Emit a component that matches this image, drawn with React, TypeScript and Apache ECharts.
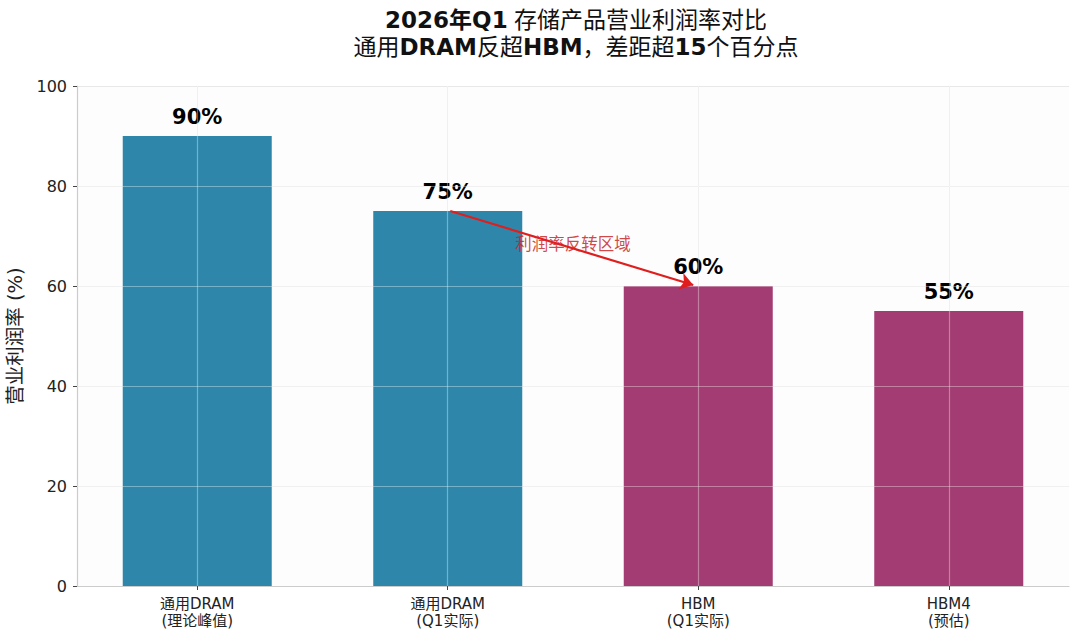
import React, { useEffect, useRef } from "react";
import * as echarts from "echarts";

const categories = ["通用DRAM\n(理论峰值)", "通用DRAM\n(Q1实际)", "HBM\n(Q1实际)", "HBM4\n(预估)"];
const margins = [90, 75, 60, 55];
const barColors = ["#2E87AA", "#2E87AA", "#A23C72", "#A23C72"];
const yTicks = [0, 20, 40, 60, 80, 100];
const arrowFrom = [1.01, 75];
const arrowTo = [1.98, 60.2];
const noteText = "利润率反转区域";
const notePos = [1.5, 68.4];

const FONT = "'DejaVu Sans', 'Noto Sans CJK SC', sans-serif";

export default function App() {
  const ref = useRef<HTMLDivElement>(null);
  useEffect(() => {
    if (!ref.current) return;
    const chart = echarts.init(ref.current, null, { renderer: "svg" });
    const idx = categories.map((_, i) => i);
    const option = {
      animation: false,
      backgroundColor: "#ffffff",
      textStyle: { fontFamily: FONT },
      title: {
        left: 571,
        top: 1,
        textAlign: "center",
        text:
          "{b|2026年Q1} {n|存储产品营业利润率对比}\n{n|通用}{b|DRAM}{n|反超}{b|HBM}{n|，差距超}{b|15}{n|个百分点}",
        textStyle: {
          rich: {
            b: { fontFamily: FONT, fontWeight: "bold", fontSize: 23, color: "#111", lineHeight: 27 },
            n: { fontFamily: FONT, fontWeight: "normal", fontSize: 23, color: "#111", lineHeight: 27 },
          },
        },
      },
      grid: {
        left: 77,
        right: 11,
        top: 86,
        bottom: 55,
        show: true,
        backgroundColor: "#fdfdfd",
        borderWidth: 0,
        containLabel: false,
        outerBoundsMode: "none",
      },
      xAxis: {
        type: "value",
        min: -0.48,
        max: 3.48,
        splitLine: { show: false },
        axisLine: { show: true, onZero: false, lineStyle: { color: "#cccccc", width: 1.2 } },
        axisTick: { show: true, customValues: idx, length: 4, lineStyle: { color: "#444" } },
        axisLabel: {
          customValues: idx,
          formatter: (v: number) => categories[Math.round(v)] ?? "",
          fontSize: 15,
          lineHeight: 17,
          color: "#222",
          margin: 9,
          fontFamily: FONT,
        },
      },
      yAxis: {
        type: "value",
        min: 0,
        max: 100,
        interval: 20,
        name: "营业利润率 (%)",
        nameLocation: "middle",
        nameGap: 47,
        nameTextStyle: { fontSize: 19.5, color: "#222", fontFamily: FONT },
        axisLine: { show: true, onZero: false, lineStyle: { color: "#cccccc", width: 1.2 } },
        axisTick: { show: true, length: 4, lineStyle: { color: "#444" } },
        axisLabel: { fontSize: 16, color: "#222", margin: 10, fontFamily: FONT, formatter: (v: number) => (yTicks.includes(v) ? String(v) : "") },
        splitLine: { show: true, lineStyle: { color: "#e8e8e8", width: 1 } },
      },
      series: [
        {
          type: "line",
          data: [],
          silent: true,
          z: 1,
          markLine: {
            silent: true,
            z: 1,
            symbol: ["none", "none"],
            label: { show: false },
            lineStyle: { color: "#e8e8e8", width: 1, type: "solid" },
            data: idx.map((i) => ({ xAxis: i })),
          },
        },
        {
          type: "bar",
          z: 2,
          barWidth: 149,
          data: margins.map((v, i) => ({ value: [i, v], itemStyle: { color: barColors[i] } })),
          label: {
            show: true,
            position: "top",
            distance: 9,
            fontSize: 21,
            fontWeight: "bold",
            color: "#000",
            fontFamily: FONT,
            formatter: (p: any) => `${p.value[1]}%`,
          },
        },
        {
          type: "line",
          data: [],
          silent: true,
          z: 3,
          markLine: {
            silent: true,
            z: 3,
            symbol: ["none", "none"],
            label: { show: false },
            lineStyle: { color: "rgba(255,255,255,0.35)", width: 1.2, type: "solid" },
            data: [
              ...idx.map((i) => ({ xAxis: i })),
              ...yTicks.filter((t) => t > 0 && t < 100).map((t) => ({ yAxis: t })),
            ],
          },
        },
        {
          type: "line",
          data: [],
          silent: true,
          z: 4,
          markPoint: {
            z: 4,
            symbol: "circle",
            symbolSize: 0,
            label: {
              show: true,
              position: "inside",
              formatter: noteText,
              fontSize: 16.5,
              color: "rgba(200,40,40,0.85)",
              fontFamily: FONT,
            },
            data: [{ coord: notePos }],
          },
          markLine: {
            silent: true,
            z: 5,
            symbol: ["none", "arrow"],
            symbolSize: 13,
            label: { show: false },
            lineStyle: { color: "#E01E1E", width: 2.2, type: "solid" },
            data: [[{ coord: arrowFrom }, { coord: arrowTo }]],
          },
        },
      ],
    };
    chart.setOption(option as any);
    return () => chart.dispose();
  }, []);
  return (
    <div
      ref={ref}
      style={{ position: "fixed", left: 0, top: 0, width: 1080, height: 641, background: "#fff" }}
    />
  );
}
